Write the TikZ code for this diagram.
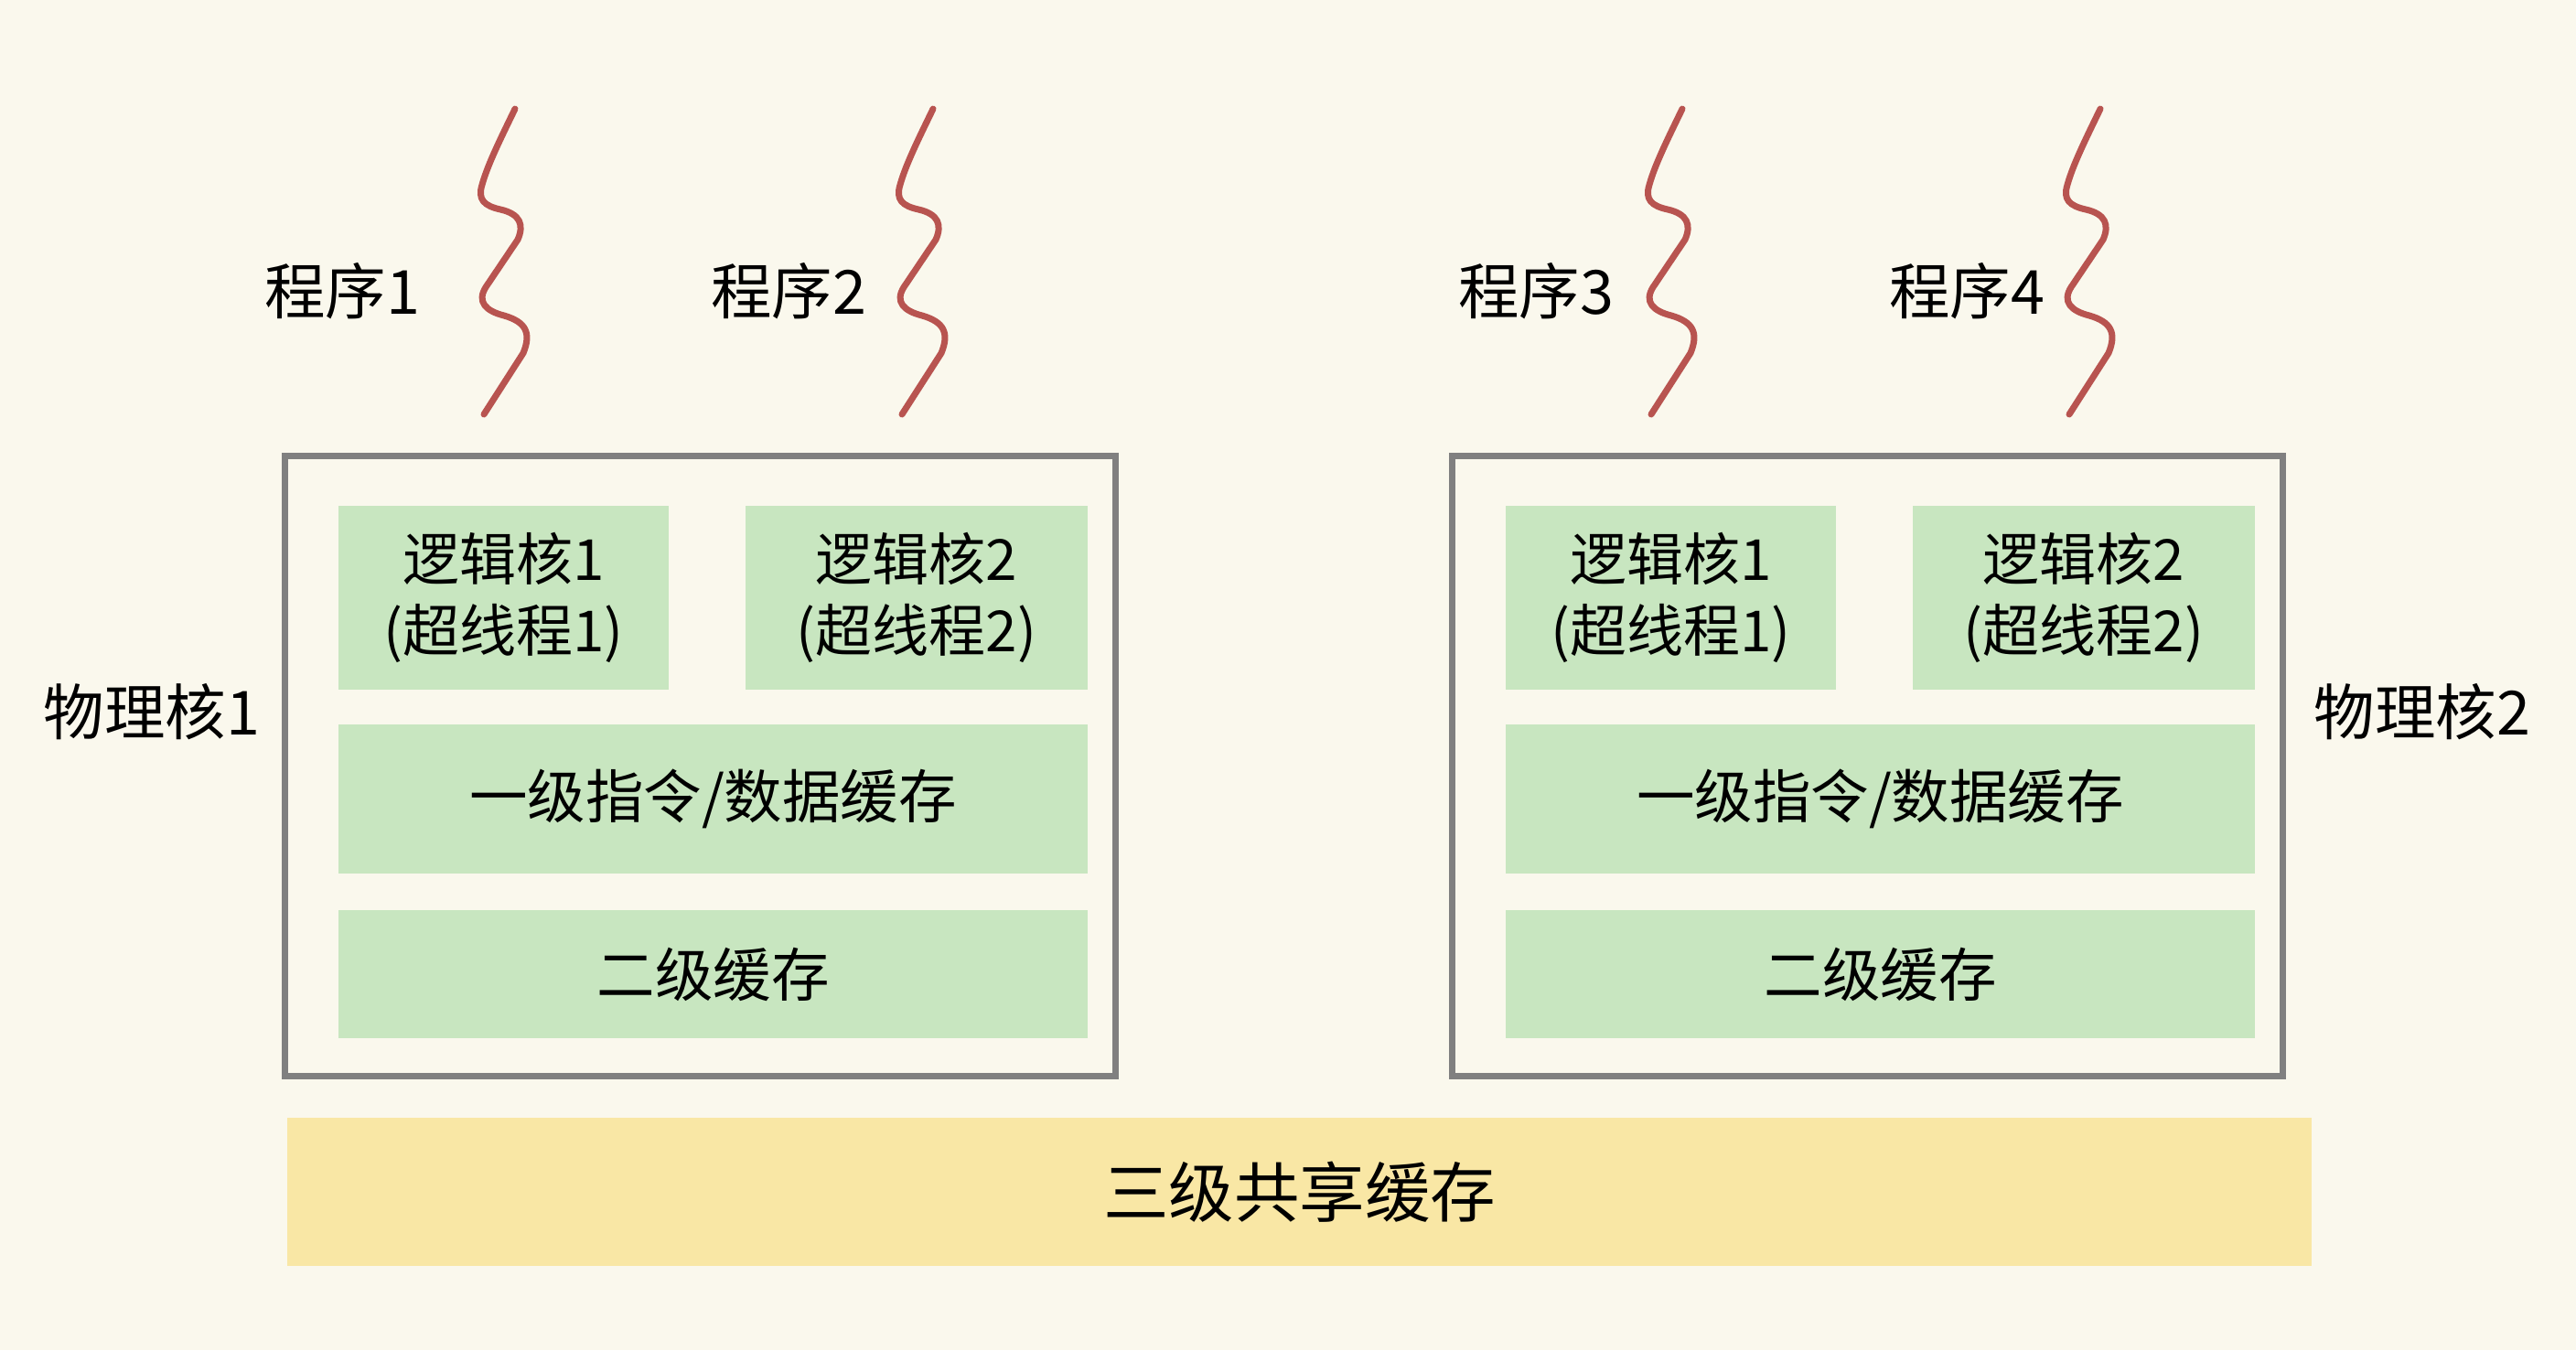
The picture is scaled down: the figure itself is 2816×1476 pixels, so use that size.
\documentclass[tikz,border=0pt]{standalone}
\usepackage{fontspec}
\setmainfont{Noto Sans CJK SC}
\definecolor{cbg}{RGB}{250,248,237}
\definecolor{cgreen}{RGB}{200,230,192}
\definecolor{cyellow}{RGB}{249,231,165}
\definecolor{cgrey}{RGB}{128,128,128}
\definecolor{cred}{RGB}{184,84,80}
\begin{document}
\begin{tikzpicture}[x=1pt,y=-1pt,
  greenbox/.style={fill=cgreen, inner sep=0pt, align=center, font=\fontsize{63.5}{79}\selectfont},
  lcbox/.style={greenbox, font=\fontsize{62}{78}\selectfont},
  corebox/.style={draw=cgrey, line width=7pt, inner sep=0pt, minimum width=908pt, minimum height=678pt},
  lbl/.style={inner sep=0pt, font=\fontsize{66.5}{76}\selectfont},
  l3box/.style={fill=cyellow, inner sep=0pt, font=\fontsize{71.5}{80}\selectfont},
  squig/.style={draw=cred, line width=7pt, line cap=round, line join=round}]
\fill[cbg] (0,0) rectangle (2816,1476);
\useasboundingbox (0,0) rectangle (2816,1476);

% physical cores
\node[corebox] (pc1) at (765.5,837) {};
\node[corebox] (pc2) at (2041.5,837) {};

% core 1 contents
\node[lcbox, minimum width=361pt, minimum height=201pt] (a1) at (550.5,653.5) {逻辑核1\\(超线程1)};
\node[lcbox, minimum width=374pt, minimum height=201pt] (a2) at (1002,653.5) {逻辑核2\\(超线程2)};
\node[greenbox, minimum width=819pt, minimum height=163pt] (al1) at (779.5,873.5) {一级指令/数据缓存};
\node[greenbox, minimum width=819pt, minimum height=140pt] (al2) at (779.5,1065) {二级缓存};

% core 2 contents
\node[lcbox, minimum width=361pt, minimum height=201pt] (b1) at (1826.5,653.5) {逻辑核1\\(超线程1)};
\node[lcbox, minimum width=374pt, minimum height=201pt] (b2) at (2278,653.5) {逻辑核2\\(超线程2)};
\node[greenbox, minimum width=819pt, minimum height=163pt] (bl1) at (2055.5,873.5) {一级指令/数据缓存};
\node[greenbox, minimum width=819pt, minimum height=140pt] (bl2) at (2055.5,1065) {二级缓存};

% L3
\node[l3box, minimum width=2213pt, minimum height=162pt] (l3) at (1420.5,1303) {三级共享缓存};

% labels
\node[lbl] (pn1) at (166,778) {物理核1};
\node[lbl] (pn2) at (2648,778) {物理核2};
\node[lbl] (p1) at (374,318) {程序1};
\node[lbl] (p2) at (862,318) {程序2};
\node[lbl] (p3) at (1679,318) {程序3};
\node[lbl] (p4) at (2150,318) {程序4};

% threads (squiggles)
\foreach \sx in {563,1020,1839,2296} {
  \draw[squig, shift={(\sx,0)}] (0,119) .. controls (-15,150) and (-30,180) .. (-36,202)
    .. controls (-41,218) and (-34,225) .. (-16,229)
    .. controls (6,234) and (10,246) .. (3,262)
    -- (-32,314)
    .. controls (-42,330) and (-32,340) .. (-12,345)
    .. controls (12,352) and (18,364) .. (9,386)
    -- (-34,453);
}
\end{tikzpicture}
\end{document}
